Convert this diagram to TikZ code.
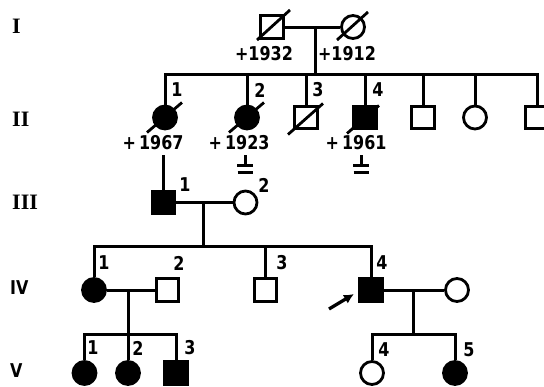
\documentclass[tikz,border=0pt]{standalone}
\usepackage{fontspec}
\setmainfont{DejaVu Sans}
\newfontfamily\numfont[FakeStretch=0.84]{DejaVu Sans}
\newfontfamily\genserif{Liberation Serif}
\usetikzlibrary{arrows.meta,calc}
\begin{document}
\begin{tikzpicture}[x=1pt,y=-1pt,
  ln/.style={line width=3pt},
  male/.style={draw, line width=2.8pt, rectangle, minimum size=22.5pt, inner sep=0pt, fill=white},
  female/.style={draw, line width=2.8pt, circle, minimum size=23pt, inner sep=0pt, fill=white},
  aff/.style={fill=black},
  num/.style={font=\numfont\bfseries\fontsize{19}{19}\selectfont, inner sep=0pt},
  genr/.style={font=\genserif\bfseries\fontsize{22}{22}\selectfont, inner sep=0pt, anchor=west},
  gens/.style={font=\numfont\bfseries\fontsize{19}{19}\selectfont, inner sep=0pt, anchor=west},
  slash/.style={line width=2.8pt}]
\useasboundingbox (0,0) rectangle (544,386);

% generation labels
\node[genr] (gI) at (12,26) {I};
\node[genr] (gII) at (12,119) {II};
\node[genr] (gIII) at (12,202) {III};
\node[gens] (gIV) at (10,288) {IV};
\node[gens] (gV) at (10,371) {V};

% generation I
\node[male] (I1) at (272,27) {};
\node[female] (I2) at (353,27) {};
\draw[slash, shift={(I1.center)}] (-15,13) -- (18,-17);
\draw[slash, shift={(I2.center)}] (-16,13) -- (15,-15);
\node[num] (yI1) at (264,54) {+1932};
\node[num] (yI2) at (347,54) {+1912};
\draw[ln] (I1) -- (I2);
\coordinate (s1) at (315,74);
\draw[ln] (s1 |- I1) -- (s1);

% generation II
\node[female, aff] (II1) at (165,117.5) {};
\node[female, aff] (II2) at (247,117.5) {};
\node[male] (II3) at (306,117.5) {};
\node[male, aff] (II4) at (365,117.5) {};
\node[male] (II5) at (423,117.5) {};
\node[female] (II6) at (475,117.5) {};
\node[male] (II7) at (537,117.5) {};
\draw[slash, shift={(II1.center)}] (-18,15) -- (17,-15);
\draw[slash, shift={(II2.center)}] (-18,15) -- (17,-15);
\draw[slash, shift={(II3.center)}] (-18,17) -- (17,-14);
\draw[slash, shift={(II4.center)}] (-18,16) -- (14,-12);
\draw[ln] (II1.north) -- (II1.north |- s1) -- (II7.north |- s1) -- (II7.north);
\foreach \n in {II2,II3,II4,II5,II6} \draw[ln] (\n.north) -- (\n.north |- s1);
\node[num] (lII1) at (177,90) {1};
\node[num] (lII2) at (260,90) {2};
\node[num] (lII3) at (318,90) {3};
\node[num] (lII4) at (378,90) {4};
\node[num] (yII1) at (153,143) {+\,1967};
\node[num] (yII2) at (239,143) {+\,1923};
\node[num] (yII4) at (356,143) {+\,1961};
% no offspring marks
\foreach \gx in {245,361} {
  \draw[ln] (\gx,155) -- (\gx,165);
  \draw[ln] (\gx-8,165) -- (\gx+8,165);
  \draw[ln] (\gx-7.5,172) -- (\gx+7.5,172);
}

% generation III
\node[male, aff] (III1) at (163.5,202.5) {};
\node[female] (III2) at (245.5,202.5) {};
\coordinate (t21) at (163.5,155);
\draw[ln] (III1.north) -- (t21);
\node[num] (lIII1) at (185,185) {1};
\node[num] (lIII2) at (264,185) {2};
\draw[ln] (III1) -- (III2);
\coordinate (s3) at (203,246);
\draw[ln] (s3 |- III1) -- (s3);

% generation IV
\node[female, aff] (IV1) at (94,290) {};
\node[male] (IV2) at (167.5,290) {};
\node[male] (IV3) at (265.5,290) {};
\node[male, aff] (IV4) at (371,290) {};
\node[female] (IV5) at (457,290) {};
\draw[ln] (IV1.north) -- (IV1.north |- s3) -- (IV4.north |- s3) -- (IV4.north);
\draw[ln] (IV3.north) -- (IV3.north |- s3);
\node[num] (lIV1) at (104,263) {1};
\node[num] (lIV2) at (179,263) {2};
\node[num] (lIV3) at (282,263) {3};
\node[num] (lIV4) at (382,263) {4};
\draw[ln] (IV1) -- (IV2);
\draw[ln] (IV4) -- (IV5);
\coordinate (s4a) at (128,334);
\coordinate (s4b) at (413,334);
\draw[ln] (s4a |- IV1) -- (s4a);
\draw[ln] (s4b |- IV4) -- (s4b);
\coordinate (pa) at (329,309);
\coordinate (pb) at (354,294);
\draw[line width=3.3pt, -{Latex[length=10pt,width=10pt]}] (pa) -- (pb);

% generation V
\node[female, aff] (V1) at (84.5,373) {};
\node[female, aff] (V2) at (128,373) {};
\node[male, aff] (V3) at (176,373) {};
\node[female] (V4) at (372,373) {};
\node[female, aff] (V5) at (455,373) {};
\draw[ln] (V1.north) -- (V1.north |- s4a) -- (V3.north |- s4a) -- (V3.north);
\draw[ln] (V2.north) -- (V2.north |- s4a);
\draw[ln] (V4.north) -- (V4.north |- s4b) -- (V5.north |- s4b) -- (V5.north);
\node[num] (lV1) at (93,348) {1};
\node[num] (lV2) at (138,348) {2};
\node[num] (lV3) at (190,348) {3};
\node[num] (lV4) at (384,350) {4};
\node[num] (lV5) at (469,350) {5};
\end{tikzpicture}
\end{document}
